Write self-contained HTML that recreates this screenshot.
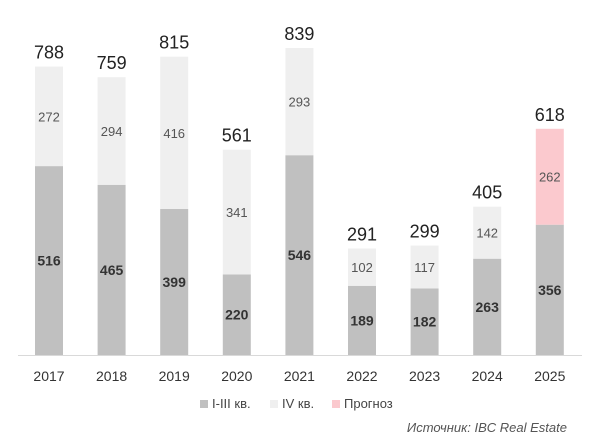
<!DOCTYPE html><html><head><meta charset="utf-8"><style>body{margin:0;background:#fff}svg{display:block}</style></head><body>
<svg width="600" height="446" xmlns="http://www.w3.org/2000/svg" font-family="Liberation Sans, DejaVu Sans, sans-serif">
<line x1="18" y1="355.5" x2="582" y2="355.5" stroke="#d9d9d9" stroke-width="1"/>
<g fill="#c0c0c0">
<rect x="35" y="166.1" width="28" height="188.9"/>
<rect x="97.6" y="184.8" width="28" height="170.2"/>
<rect x="160.2" y="209" width="28" height="146"/>
<rect x="222.8" y="274.5" width="28" height="80.5"/>
<rect x="285.4" y="155.2" width="28" height="199.8"/>
<rect x="348" y="285.8" width="28" height="69.2"/>
<rect x="410.6" y="288.4" width="28" height="66.6"/>
<rect x="473.2" y="258.7" width="28" height="96.3"/>
<rect x="535.8" y="224.7" width="28" height="130.3"/>
</g>
<g fill="#efefef">
<rect x="35" y="66.6" width="28" height="99.5"/>
<rect x="97.6" y="77.2" width="28" height="107.6"/>
<rect x="160.2" y="56.7" width="28" height="152.3"/>
<rect x="222.8" y="149.7" width="28" height="124.8"/>
<rect x="285.4" y="48" width="28" height="107.2"/>
<rect x="348" y="248.5" width="28" height="37.3"/>
<rect x="410.6" y="245.6" width="28" height="42.8"/>
<rect x="473.2" y="206.7" width="28" height="52"/>
</g>
<rect x="535.8" y="128.8" width="28" height="95.9" fill="#fbc9ce"/>
<g text-anchor="middle" font-size="14" font-weight="bold" fill="#333">
<text x="49" y="265.6">516</text><text x="111.6" y="274.9">465</text><text x="174.2" y="287">399</text><text x="236.8" y="319.7">220</text><text x="299.4" y="260.1">546</text><text x="362" y="325.4">189</text><text x="424.6" y="326.7">182</text><text x="487.2" y="311.9">263</text><text x="549.8" y="294.9">356</text>
</g>
<g text-anchor="middle" font-size="13" fill="#555">
<text x="49" y="121.3">272</text><text x="111.6" y="136">294</text><text x="174.2" y="137.9">416</text><text x="236.8" y="217.1">341</text><text x="299.4" y="106.6">293</text><text x="362" y="272.1">102</text><text x="424.6" y="272">117</text><text x="487.2" y="237.7">142</text><text x="549.8" y="181.7">262</text>
</g>
<g text-anchor="middle" font-size="18" fill="#222">
<text x="49" y="58.6">788</text><text x="111.6" y="69.2">759</text><text x="174.2" y="48.7">815</text><text x="236.8" y="141.7">561</text><text x="299.4" y="40">839</text><text x="362" y="240.5">291</text><text x="424.6" y="237.6">299</text><text x="487.2" y="198.7">405</text><text x="549.8" y="120.8">618</text>
</g>
<g text-anchor="middle" font-size="14" fill="#333">
<text x="49" y="381">2017</text><text x="111.6" y="381">2018</text><text x="174.2" y="381">2019</text><text x="236.8" y="381">2020</text><text x="299.4" y="381">2021</text><text x="362" y="381">2022</text><text x="424.6" y="381">2023</text><text x="487.2" y="381">2024</text><text x="549.8" y="381">2025</text>
</g>
<rect x="200" y="400" width="8" height="8" fill="#c0c0c0"/><text x="212" y="408" font-size="13" fill="#444">I-III кв.</text>
<rect x="270" y="400" width="8" height="8" fill="#efefef"/><text x="282" y="408" font-size="13" fill="#444">IV кв.</text>
<rect x="332" y="400" width="8" height="8" fill="#fbc9ce"/><text x="344" y="408" font-size="13" fill="#444">Прогноз</text>
<text x="567" y="432" text-anchor="end" font-size="13" font-style="italic" fill="#555">Источник: IBC Real Estate</text>
</svg></body></html>
